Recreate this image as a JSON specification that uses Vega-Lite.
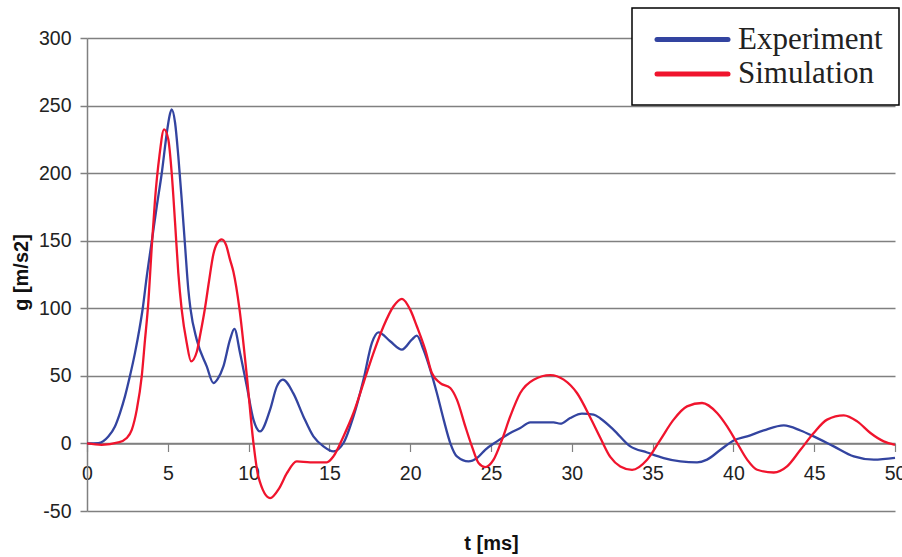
{
  "$schema": "https://vega.github.io/schema/vega-lite/v6.json",
  "width": 808,
  "height": 473,
  "autosize": {"type": "none"},
  "padding": {"left": 87, "top": 38, "right": 7, "bottom": 46},
  "background": "white",
  "data": {"values": [
    {"series": "Experiment", "t": 0, "g": 0},
    {"series": "Experiment", "t": 0.7, "g": 0.3},
    {"series": "Experiment", "t": 1.32, "g": 5.2},
    {"series": "Experiment", "t": 1.73, "g": 12.6},
    {"series": "Experiment", "t": 2.04, "g": 22.5},
    {"series": "Experiment", "t": 2.35, "g": 34.8},
    {"series": "Experiment", "t": 2.66, "g": 50},
    {"series": "Experiment", "t": 2.97, "g": 67},
    {"series": "Experiment", "t": 3.25, "g": 85},
    {"series": "Experiment", "t": 3.45, "g": 100},
    {"series": "Experiment", "t": 3.7, "g": 123.7},
    {"series": "Experiment", "t": 4.01, "g": 149.6},
    {"series": "Experiment", "t": 4.32, "g": 175.6},
    {"series": "Experiment", "t": 4.63, "g": 200.3},
    {"series": "Experiment", "t": 4.94, "g": 229.9},
    {"series": "Experiment", "t": 5.1, "g": 242},
    {"series": "Experiment", "t": 5.24, "g": 247.2},
    {"series": "Experiment", "t": 5.45, "g": 237.3},
    {"series": "Experiment", "t": 5.65, "g": 212.6},
    {"series": "Experiment", "t": 5.86, "g": 180.5},
    {"series": "Experiment", "t": 6.07, "g": 145.9},
    {"series": "Experiment", "t": 6.27, "g": 113.9},
    {"series": "Experiment", "t": 6.4, "g": 100},
    {"series": "Experiment", "t": 6.79, "g": 76.8},
    {"series": "Experiment", "t": 7.41, "g": 57},
    {"series": "Experiment", "t": 7.82, "g": 44.7},
    {"series": "Experiment", "t": 8.1, "g": 48},
    {"series": "Experiment", "t": 8.44, "g": 57},
    {"series": "Experiment", "t": 8.85, "g": 76.8},
    {"series": "Experiment", "t": 9.12, "g": 84.7},
    {"series": "Experiment", "t": 9.47, "g": 67},
    {"series": "Experiment", "t": 9.89, "g": 42.2},
    {"series": "Experiment", "t": 10.3, "g": 17.6},
    {"series": "Experiment", "t": 10.71, "g": 8.9},
    {"series": "Experiment", "t": 11.33, "g": 25},
    {"series": "Experiment", "t": 11.75, "g": 42.2},
    {"series": "Experiment", "t": 12.12, "g": 47.2},
    {"series": "Experiment", "t": 12.77, "g": 37},
    {"series": "Experiment", "t": 13.39, "g": 20},
    {"series": "Experiment", "t": 14.01, "g": 5.2},
    {"series": "Experiment", "t": 14.63, "g": -2.2},
    {"series": "Experiment", "t": 15.25, "g": -5.9},
    {"series": "Experiment", "t": 15.87, "g": 0.3},
    {"series": "Experiment", "t": 16.49, "g": 20},
    {"series": "Experiment", "t": 17.11, "g": 47.2},
    {"series": "Experiment", "t": 17.63, "g": 74.4},
    {"series": "Experiment", "t": 18.04, "g": 82.2},
    {"series": "Experiment", "t": 18.76, "g": 75.6},
    {"series": "Experiment", "t": 19.49, "g": 69.4},
    {"series": "Experiment", "t": 20.1, "g": 76.8},
    {"series": "Experiment", "t": 20.41, "g": 79.8},
    {"series": "Experiment", "t": 20.82, "g": 69.4},
    {"series": "Experiment", "t": 21.24, "g": 54.6},
    {"series": "Experiment", "t": 21.65, "g": 37.3},
    {"series": "Experiment", "t": 22.07, "g": 17.6},
    {"series": "Experiment", "t": 22.48, "g": 0.3},
    {"series": "Experiment", "t": 22.89, "g": -9.6},
    {"series": "Experiment", "t": 23.61, "g": -13.3},
    {"series": "Experiment", "t": 24.13, "g": -10.8},
    {"series": "Experiment", "t": 24.64, "g": -4.7},
    {"series": "Experiment", "t": 25.37, "g": 1.5},
    {"series": "Experiment", "t": 26.19, "g": 7.7},
    {"series": "Experiment", "t": 26.81, "g": 11.4},
    {"series": "Experiment", "t": 27.43, "g": 15.6},
    {"series": "Experiment", "t": 28.25, "g": 15.6},
    {"series": "Experiment", "t": 28.87, "g": 15.6},
    {"series": "Experiment", "t": 29.29, "g": 14.6},
    {"series": "Experiment", "t": 29.9, "g": 18.8},
    {"series": "Experiment", "t": 30.63, "g": 22},
    {"series": "Experiment", "t": 31.35, "g": 21.3},
    {"series": "Experiment", "t": 31.77, "g": 18.5},
    {"series": "Experiment", "t": 32.59, "g": 10.1},
    {"series": "Experiment", "t": 33.62, "g": -2.2},
    {"series": "Experiment", "t": 34.66, "g": -6.7},
    {"series": "Experiment", "t": 35.69, "g": -10.8},
    {"series": "Experiment", "t": 36.72, "g": -13.3},
    {"series": "Experiment", "t": 37.75, "g": -14},
    {"series": "Experiment", "t": 38.37, "g": -12},
    {"series": "Experiment", "t": 39.2, "g": -4.7},
    {"series": "Experiment", "t": 40.02, "g": 2.2},
    {"series": "Experiment", "t": 40.85, "g": 5.2},
    {"series": "Experiment", "t": 41.88, "g": 9.6},
    {"series": "Experiment", "t": 43.12, "g": 13.3},
    {"series": "Experiment", "t": 44.15, "g": 9.6},
    {"series": "Experiment", "t": 44.97, "g": 5.2},
    {"series": "Experiment", "t": 46.21, "g": -2.2},
    {"series": "Experiment", "t": 47.45, "g": -9.6},
    {"series": "Experiment", "t": 48.69, "g": -12},
    {"series": "Experiment", "t": 50, "g": -10.7},
    {"series": "Simulation", "t": 0, "g": 0},
    {"series": "Simulation", "t": 0.9, "g": -1},
    {"series": "Simulation", "t": 1.94, "g": 0.7},
    {"series": "Simulation", "t": 2.46, "g": 4},
    {"series": "Simulation", "t": 2.77, "g": 10},
    {"series": "Simulation", "t": 3.08, "g": 25},
    {"series": "Simulation", "t": 3.39, "g": 50},
    {"series": "Simulation", "t": 3.59, "g": 76.8},
    {"series": "Simulation", "t": 3.78, "g": 102},
    {"series": "Simulation", "t": 4.01, "g": 145.9},
    {"series": "Simulation", "t": 4.21, "g": 180.5},
    {"series": "Simulation", "t": 4.48, "g": 212.6},
    {"series": "Simulation", "t": 4.77, "g": 232.4},
    {"series": "Simulation", "t": 5.03, "g": 225},
    {"series": "Simulation", "t": 5.24, "g": 200.3},
    {"series": "Simulation", "t": 5.45, "g": 163.3},
    {"series": "Simulation", "t": 5.65, "g": 126.2},
    {"series": "Simulation", "t": 5.86, "g": 99},
    {"series": "Simulation", "t": 6.17, "g": 74.4},
    {"series": "Simulation", "t": 6.44, "g": 60.7},
    {"series": "Simulation", "t": 6.8, "g": 68},
    {"series": "Simulation", "t": 7.0, "g": 80},
    {"series": "Simulation", "t": 7.3, "g": 100},
    {"series": "Simulation", "t": 7.55, "g": 120},
    {"series": "Simulation", "t": 7.82, "g": 140},
    {"series": "Simulation", "t": 8.05, "g": 148},
    {"series": "Simulation", "t": 8.34, "g": 151},
    {"series": "Simulation", "t": 8.6, "g": 147},
    {"series": "Simulation", "t": 8.85, "g": 136},
    {"series": "Simulation", "t": 9.06, "g": 127},
    {"series": "Simulation", "t": 9.43, "g": 100},
    {"series": "Simulation", "t": 9.89, "g": 50},
    {"series": "Simulation", "t": 10.3, "g": 0.3},
    {"series": "Simulation", "t": 10.6, "g": -24.4},
    {"series": "Simulation", "t": 11.33, "g": -40.4},
    {"series": "Simulation", "t": 11.9, "g": -33},
    {"series": "Simulation", "t": 12.37, "g": -22},
    {"series": "Simulation", "t": 12.98, "g": -13.3},
    {"series": "Simulation", "t": 13.81, "g": -14},
    {"series": "Simulation", "t": 14.84, "g": -14},
    {"series": "Simulation", "t": 15.25, "g": -9.6},
    {"series": "Simulation", "t": 15.87, "g": 5.2},
    {"series": "Simulation", "t": 16.49, "g": 22.5},
    {"series": "Simulation", "t": 17.11, "g": 44.7},
    {"series": "Simulation", "t": 17.73, "g": 67},
    {"series": "Simulation", "t": 18.35, "g": 86.7},
    {"series": "Simulation", "t": 18.97, "g": 101.5},
    {"series": "Simulation", "t": 19.49, "g": 107},
    {"series": "Simulation", "t": 20.0, "g": 99},
    {"series": "Simulation", "t": 20.41, "g": 86.7},
    {"series": "Simulation", "t": 20.93, "g": 69.4},
    {"series": "Simulation", "t": 21.34, "g": 52.1},
    {"series": "Simulation", "t": 21.86, "g": 44.7},
    {"series": "Simulation", "t": 22.48, "g": 41},
    {"series": "Simulation", "t": 22.89, "g": 32.4},
    {"series": "Simulation", "t": 23.41, "g": 12.6},
    {"series": "Simulation", "t": 23.82, "g": -2.2},
    {"series": "Simulation", "t": 24.23, "g": -14.5},
    {"series": "Simulation", "t": 24.64, "g": -17.5},
    {"series": "Simulation", "t": 25.16, "g": -12},
    {"series": "Simulation", "t": 25.68, "g": 2.7},
    {"series": "Simulation", "t": 26.19, "g": 20},
    {"series": "Simulation", "t": 26.81, "g": 37.3},
    {"series": "Simulation", "t": 27.64, "g": 47.2},
    {"series": "Simulation", "t": 28.67, "g": 50.6},
    {"series": "Simulation", "t": 29.5, "g": 47.2},
    {"series": "Simulation", "t": 30.32, "g": 37.3},
    {"series": "Simulation", "t": 31.15, "g": 19},
    {"series": "Simulation", "t": 31.77, "g": 4},
    {"series": "Simulation", "t": 32.38, "g": -10},
    {"series": "Simulation", "t": 33.0, "g": -17},
    {"series": "Simulation", "t": 33.73, "g": -19.5},
    {"series": "Simulation", "t": 34.66, "g": -12},
    {"series": "Simulation", "t": 35.48, "g": 2.7},
    {"series": "Simulation", "t": 36.3, "g": 17.6},
    {"series": "Simulation", "t": 37.13, "g": 27.4},
    {"series": "Simulation", "t": 38.06, "g": 29.9},
    {"series": "Simulation", "t": 38.99, "g": 22.5},
    {"series": "Simulation", "t": 39.61, "g": 12.6},
    {"series": "Simulation", "t": 40.23, "g": 0.3},
    {"series": "Simulation", "t": 40.85, "g": -12},
    {"series": "Simulation", "t": 41.47, "g": -19.5},
    {"series": "Simulation", "t": 42.5, "g": -21.5},
    {"series": "Simulation", "t": 43.32, "g": -17},
    {"series": "Simulation", "t": 44.15, "g": -4.7},
    {"series": "Simulation", "t": 44.97, "g": 7.7},
    {"series": "Simulation", "t": 45.8, "g": 17.6},
    {"series": "Simulation", "t": 46.83, "g": 20.7},
    {"series": "Simulation", "t": 47.66, "g": 16.3},
    {"series": "Simulation", "t": 48.48, "g": 7.7},
    {"series": "Simulation", "t": 49.3, "g": 1.5},
    {"series": "Simulation", "t": 50, "g": -1}
  ]},
  "mark": {"type": "line", "interpolate": "monotone", "strokeWidth": 2.3},
  "encoding": {
    "x": {
      "field": "t", "type": "quantitative",
      "scale": {"domain": [0, 50], "nice": false, "zero": false},
      "axis": {
        "title": "t [ms]",
        "values": [0, 5, 10, 15, 20, 25, 30, 35, 40, 45, 50],
        "offset": -67.5,
        "grid": false,
        "domainColor": "#808080", "domainWidth": 1.5,
        "tickColor": "#808080", "tickSize": 8, "tickWidth": 1.2,
        "labelFont": "Liberation Sans", "labelFontSize": 19.5, "labelColor": "#222222",
        "labelPadding": 13, "labelFlush": false, "labelOverlap": false,
        "titleFont": "Liberation Sans", "titleFontSize": 20, "titleFontWeight": "bold", "titleColor": "#111111",
        "titleY": 100, "titleBaseline": "middle"
      }
    },
    "y": {
      "field": "g", "type": "quantitative",
      "scale": {"domain": [-50, 300], "nice": false},
      "axis": {
        "title": "g [m/s2]",
        "values": [-50, 0, 50, 100, 150, 200, 250, 300],
        "labelExpr": "'' + datum.value",
        "grid": true, "gridColor": "#808080", "gridWidth": 1.5,
        "domainColor": "#808080", "domainWidth": 1.5,
        "tickColor": "#808080", "tickSize": 7, "tickWidth": 1.5,
        "labelFont": "Liberation Sans", "labelFontSize": 19.5, "labelColor": "#222222",
        "labelPadding": 9, "labelOverlap": false,
        "titleFont": "Liberation Sans", "titleFontSize": 20, "titleFontWeight": "bold", "titleColor": "#111111",
        "titleX": -66, "titleY": 234, "titleBaseline": "middle", "titleAlign": "center", "titleAngle": -90
      }
    },
    "color": {
      "field": "series", "type": "nominal",
      "scale": {"domain": ["Experiment", "Simulation"], "range": ["#3344a0", "#f0142d"]},
      "legend": {
        "orient": "none", "legendX": 545, "legendY": -30,
        "title": null, "direction": "vertical",
        "strokeColor": "#000000", "fillColor": "#ffffff",
        "padding": 16, "symbolOffset": 29,
        "symbolType": "M-3.55,0H3.55", "symbolSize": 400, "symbolStrokeWidth": 5,
        "labelFont": "Liberation Serif", "labelFontSize": 31, "labelColor": "#222222",
        "labelOffset": 30, "rowPadding": 2.4, "labelLimit": 400,
        "encode": {
          "legend": {"update": {"strokeWidth": {"value": 1.5}}},
          "symbols": {"update": {
            "strokeCap": {"value": "round"},
            "stroke": {"signal": "datum.value === 'Experiment' ? '#4f81bd' : '#e8202a'"}
          }}
        }
      }
    }
  },
  "config": {"view": {"stroke": null}}
}
